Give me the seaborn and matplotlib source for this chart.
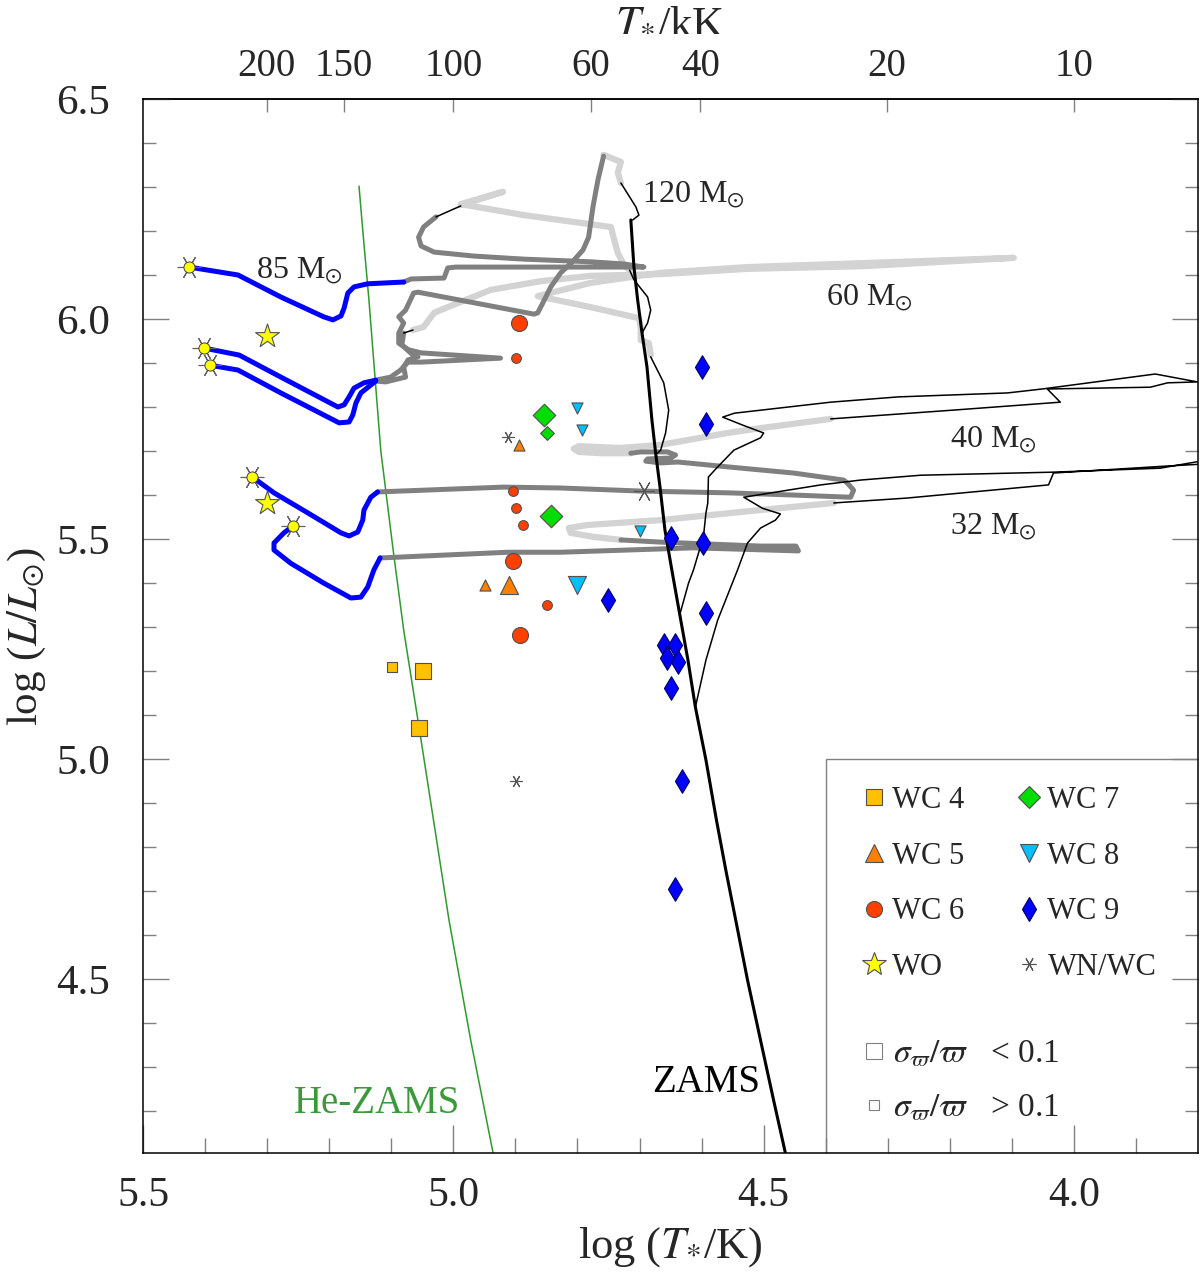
import numpy as np
import matplotlib
matplotlib.use("Agg")
import matplotlib.pyplot as plt
from matplotlib.lines import Line2D
from matplotlib.patches import Rectangle
from matplotlib.ticker import FixedLocator, FormatStrFormatter, NullLocator
import seaborn as sns

# ---- reference lines ----
he_zams_t = [5.152, 5.146, 5.136, 5.117, 5.097, 5.080, 5.052, 5.027, 5.007, 4.972, 4.936]
he_zams_l = [6.302, 6.202, 6.043, 5.702, 5.475, 5.293, 5.043, 4.816, 4.634, 4.361, 4.105]
zams_t = [4.714, 4.709, 4.703, 4.696, 4.688, 4.680, 4.674, 4.667, 4.659, 4.648, 4.635,
          4.622, 4.610, 4.593, 4.576, 4.561, 4.545, 4.526, 4.505, 4.484, 4.465]
zams_l = [6.225, 6.118, 6.043, 5.968, 5.891, 5.770, 5.695, 5.618, 5.520, 5.430, 5.327,
          5.225, 5.118, 4.998, 4.861, 4.748, 4.634, 4.498, 4.361, 4.225, 4.105]

# ---- 120 Msun track ----
thin120_t = [4.711, 4.701, 4.706, 4.730]
thin120_l = [6.225, 6.236, 6.255, 6.309]
lg120_t = [4.730, 4.735, 4.730, 4.758]
lg120_l = [6.309, 6.332, 6.357, 6.373]
dg120_t = [4.758, 4.767, 4.775, 4.782, 4.791, 4.808, 4.827, 4.843, 4.856, 4.864, 4.870,
           5.057, 5.064, 5.077, 5.088, 5.080, 5.088, 5.088, 5.072, 5.052, 4.924, 5.052,
           5.073, 5.085, 5.101, 5.125]
dg120_l = [6.370, 6.316, 6.255, 6.186, 6.157, 6.130, 6.105, 6.073, 6.036, 6.014, 6.011,
           6.061, 6.059, 6.020, 6.005, 5.991, 5.968, 5.945, 5.930, 5.923, 5.911, 5.902,
           5.902, 5.884, 5.868, 5.861]
blue120_t = [5.402, 5.345, 5.278, 5.186, 5.176, 5.168, 5.160, 5.144, 5.125]
blue120_l = [5.934, 5.918, 5.868, 5.800, 5.805, 5.823, 5.843, 5.855, 5.861]

# ---- 85 Msun track ----
thin85_t = [4.696, 4.687, 4.682, 4.687, 4.709, 4.716]
thin85_l = [5.968, 5.991, 6.020, 6.050, 6.089, 6.111]
lg85_t = [4.716, 4.725, 4.735, 4.742, 4.746, 4.886, 4.988, 4.920, 4.988]
lg85_l = [6.111, 6.123, 6.150, 6.186, 6.209, 6.236, 6.261, 6.289, 6.259]
thin85b_t = [4.988, 5.028]
thin85b_l = [6.257, 6.232]
dg85_t = [5.028, 5.048, 5.056, 5.052, 5.031, 4.967, 4.886, 4.779, 4.725, 4.693, 4.996,
          5.009, 5.015, 5.068, 5.080]
dg85_l = [6.232, 6.209, 6.186, 6.166, 6.152, 6.143, 6.136, 6.130, 6.125, 6.118, 6.118,
          6.116, 6.093, 6.091, 6.084]
blue85_t = [5.426, 5.347, 5.278, 5.209, 5.194, 5.181, 5.176, 5.170, 5.160, 5.138, 5.080]
blue85_l = [6.118, 6.100, 6.050, 6.005, 5.998, 6.007, 6.025, 6.059, 6.073, 6.080, 6.084]

# ---- 60 Msun track ----
thin60_t = [4.671, 4.666, 4.658, 4.653, 4.661, 4.682]
thin60_l = [5.695, 5.702, 5.741, 5.793, 5.855, 5.914]
lg60_t = [4.682, 4.685, 4.698, 4.698, 4.701, 4.779, 4.864, 4.779, 4.666, 4.526, 4.339,
          4.097, 4.339, 4.526, 4.666, 4.779, 4.859, 4.940, 5.009, 5.031, 5.048, 5.065]
lg60_l = [5.918, 5.945, 5.952, 5.982, 6.002, 6.027, 6.052, 6.082, 6.105, 6.118, 6.127,
          6.139, 6.120, 6.114, 6.102, 6.098, 6.086, 6.066, 6.027, 6.014, 5.982, 5.975]
thin60b_t = [5.065, 5.080]
thin60b_l = [5.975, 5.968]
dg60_t = [5.080, 5.083, 5.065, 5.057, 5.073, 5.080, 5.077, 5.109, 5.125]
dg60_l = [5.968, 5.941, 5.918, 5.914, 5.907, 5.891, 5.868, 5.857, 5.859]
blue60_t = [5.392, 5.347, 5.278, 5.184, 5.168, 5.162, 5.157, 5.149, 5.133, 5.125]
blue60_l = [5.895, 5.884, 5.832, 5.764, 5.766, 5.782, 5.809, 5.832, 5.850, 5.859]

# ---- 40 Msun track ----
thin40_t = [4.634, 4.621, 4.613, 4.605, 4.597, 4.593, 4.590, 4.589, 4.574, 4.548, 4.505,
            4.500, 4.534, 4.566, 4.547, 4.392, 4.283, 4.107, 4.051, 3.869, 3.801, 3.849,
            3.877, 4.043, 4.022, 4.194, 4.392]
thin40_l = [5.334, 5.400, 5.430, 5.468, 5.505, 5.559, 5.582, 5.641, 5.664, 5.702, 5.730,
            5.741, 5.759, 5.777, 5.786, 5.811, 5.823, 5.832, 5.841, 5.875, 5.857, 5.855,
            5.845, 5.841, 5.811, 5.793, 5.773]
lg40_t = [4.392, 4.505, 4.558, 4.666, 4.730, 4.767, 4.798, 4.806, 4.798, 4.762, 4.714]
lg40_l = [5.773, 5.752, 5.741, 5.714, 5.707, 5.709, 5.711, 5.705, 5.698, 5.695, 5.695]
dg40_t = [4.714, 4.698, 4.655, 4.642, 4.650, 4.687, 4.690, 4.666, 4.638, 4.558, 4.452,
          4.371, 4.365, 4.355, 4.360, 4.452, 4.558, 4.698, 4.827, 4.919, 5.122]
dg40_l = [5.695, 5.698, 5.698, 5.691, 5.684, 5.682, 5.677, 5.673, 5.675, 5.664, 5.650,
          5.634, 5.627, 5.611, 5.595, 5.600, 5.605, 5.609, 5.616, 5.618, 5.607]
blue40_t = [5.324, 5.289, 5.234, 5.181, 5.168, 5.154, 5.146, 5.144, 5.133, 5.122]
blue40_l = [5.641, 5.605, 5.559, 5.514, 5.507, 5.516, 5.543, 5.566, 5.595, 5.607]

# ---- 32 Msun track ----
thin32_t = [4.610, 4.593, 4.574, 4.558, 4.542, 4.526, 4.505, 4.481, 4.473, 4.502, 4.532,
            4.408, 4.344, 4.247, 4.033, 3.861, 3.796, 3.796, 3.849, 4.033, 4.041, 4.270,
            4.387]
thin32_l = [5.118, 5.225, 5.316, 5.373, 5.430, 5.491, 5.525, 5.543, 5.557, 5.570, 5.595,
            5.623, 5.634, 5.645, 5.652, 5.661, 5.677, 5.670, 5.666, 5.650, 5.623, 5.593,
            5.582]
lg32_t = [4.387, 4.505, 4.666, 4.783, 4.814, 4.811, 4.774, 4.730]
lg32_l = [5.582, 5.566, 5.543, 5.532, 5.525, 5.514, 5.505, 5.498]
dg32_t = [4.730, 4.666, 4.505, 4.448, 4.444, 4.613, 4.827, 4.912, 5.118]
dg32_l = [5.498, 5.493, 5.484, 5.484, 5.473, 5.480, 5.470, 5.470, 5.457]
blue32_t = [5.258, 5.273, 5.289, 5.289, 5.262, 5.209, 5.165, 5.149, 5.138, 5.128, 5.118]
blue32_l = [5.530, 5.514, 5.491, 5.475, 5.445, 5.400, 5.366, 5.368, 5.391, 5.430, 5.457]

# ---- observed WC / WO stars (big = sigma/plx < 0.1, small = > 0.1) ----
wc4_big_t, wc4_big_l = [5.049, 5.056], [5.200, 5.070]
wc4_small_t, wc4_small_l = [5.099], [5.209]
wc5_big_t, wc5_big_l = [4.911], [5.395]
wc5_small_t, wc5_small_l = [4.949, 4.895], [5.395, 5.714]
wc6_big_t, wc6_big_l = [4.895, 4.904, 4.893], [5.991, 5.450, 5.282]
wc6_small_t = [4.899, 4.904, 4.899, 4.888, 4.849]
wc6_small_l = [5.911, 5.609, 5.570, 5.532, 5.350]
wo_t, wo_l = [5.300, 5.300], [5.961, 5.582]
wc7_big_t, wc7_big_l = [4.854, 4.843], [5.782, 5.552]
wc7_small_t, wc7_small_l = [4.849], [5.741]
wc8_big_t, wc8_big_l = [4.800], [5.395]
wc8_small_t, wc8_small_l = [4.800, 4.793, 4.700], [5.798, 5.748, 5.518]
wc9_t = [4.600, 4.593, 4.650, 4.598, 4.750, 4.593, 4.661, 4.643, 4.655, 4.638, 4.650,
         4.632, 4.643]
wc9_l = [5.891, 5.761, 5.502, 5.491, 5.361, 5.332, 5.259, 5.259, 5.230, 5.220, 5.161,
         4.950, 4.705]
wnwc_big_t, wnwc_big_l = [4.693], [5.609]
wnwc_small_t, wnwc_small_l = [4.912, 4.899], [5.732, 4.950]

tkk_ticks = [200, 150, 100, 60, 40, 20, 10]
x_major = [5.5, 5.0, 4.5, 4.0]
y_major = [6.5, 6.0, 5.5, 5.0, 4.5]

BLUE = "#0000ff"
DGRAY = "#808080"
LGRAY = "#d3d3d3"
EDGE = "#505050"
C_WC4, C_WC5, C_WC6, C_WO = "#ffc000", "#ff8000", "#ff4000", "#ffff00"
C_WC7, C_WC8, C_WC9, C_WNWC = "#00dd00", "#00bfff", "#0000ff", "#555555"
ASTER = (6, 2, 90)

sns.set_theme(style="white")
plt.rcParams["font.family"] = ["Liberation Serif", "DejaVu Serif"]
plt.rcParams["mathtext.fontset"] = "stix"

fig = plt.figure(figsize=(12, 12.72), dpi=100)
ax = fig.add_axes([0.1192, 0.0936, 0.8792, 0.8286])


def track(t, l, color, lw, z):
    sns.lineplot(x=t, y=l, sort=False, estimator=None, color=color, lw=lw, ax=ax,
                 zorder=z, solid_capstyle="round", solid_joinstyle="round")


def stars(t, l, marker, ms, color, edge=EDGE):
    sns.scatterplot(x=t, y=l, marker=marker, s=ms ** 2, color=color, edgecolor=edge,
                    linewidth=0.8, ax=ax, zorder=6)


track(he_zams_t, he_zams_l, "#2e9a2e", 1.1, 1)

for t, l in [(lg120_t, lg120_l), (lg85_t, lg85_l), (lg60_t, lg60_l),
             (lg40_t, lg40_l), (lg32_t, lg32_l)]:
    track(t, l, LGRAY, 4.5, 2)
for t, l in [(dg120_t, dg120_l), (dg85_t, dg85_l), (dg60_t, dg60_l),
             (dg40_t, dg40_l), (dg32_t, dg32_l)]:
    track(t, l, DGRAY, 3.6, 3)

track(zams_t, zams_l, "black", 2.2, 3.5)
for t, l in [(thin120_t, thin120_l), (thin85_t, thin85_l), (thin85b_t, thin85b_l),
             (thin60_t, thin60_l), (thin60b_t, thin60b_l), (thin40_t, thin40_l),
             (thin32_t, thin32_l)]:
    track(t, l, "black", 1.1, 4)

blues = [(blue85_t, blue85_l), (blue120_t, blue120_l), (blue60_t, blue60_l),
         (blue40_t, blue40_l), (blue32_t, blue32_l)]
for t, l in blues:
    track(t, l, BLUE, 3.6, 4)

# end points of the tracks
end_t = [t[0] for t, _ in blues]
end_l = [l[0] for _, l in blues]
ax.plot(end_t, end_l, ls="none", marker=ASTER, ms=17, color="#606060", mew=0.8, zorder=5)
ax.plot(end_t, end_l, ls="none", marker="o", ms=8, mfc=C_WO, mec="#404040", mew=0.7, zorder=5.5)

stars(wc4_big_t, wc4_big_l, "s", 12, C_WC4)
stars(wc4_small_t, wc4_small_l, "s", 7, C_WC4)
stars(wc5_big_t, wc5_big_l, "^", 13, C_WC5)
stars(wc5_small_t, wc5_small_l, "^", 8, C_WC5)
stars(wc6_big_t, wc6_big_l, "o", 11.5, C_WC6)
stars(wc6_small_t, wc6_small_l, "o", 7, C_WC6)
stars(wo_t, wo_l, "*", 18, C_WO)
stars(wc7_big_t, wc7_big_l, "D", 11.5, C_WC7)
stars(wc7_small_t, wc7_small_l, "D", 7, C_WC7)
stars(wc8_big_t, wc8_big_l, "v", 13, C_WC8)
stars(wc8_small_t, wc8_small_l, "v", 8, C_WC8)
stars(wc9_t, wc9_l, "d", 12, C_WC9, edge="#000060")
ax.plot(wnwc_big_t, wnwc_big_l, ls="none", marker=ASTER, ms=15, color=C_WNWC, mew=0.8, zorder=6)
ax.plot(wnwc_small_t, wnwc_small_l, ls="none", marker=ASTER, ms=9, color=C_WNWC, mew=0.8, zorder=6)

# track labels
lab = dict(fontsize=23, va="baseline", zorder=7)
ax.text(5.318, 6.093, r"85 M$_{\odot}$", **lab)
ax.text(4.696, 6.264, r"120 M$_{\odot}$", **lab)
ax.text(4.399, 6.032, r"60 M$_{\odot}$", **lab)
ax.text(4.199, 5.709, r"40 M$_{\odot}$", **lab)
ax.text(4.199, 5.511, r"32 M$_{\odot}$", **lab)
ax.text(5.257, 4.195, "He-ZAMS", fontsize=28, color="#3a9a3a", va="baseline")
ax.text(4.680, 4.243, "ZAMS", fontsize=28, color="black", va="baseline")

# axes
ax.set_xlim(5.5, 3.80)
ax.set_ylim(4.105, 6.5)
ax.xaxis.set_major_locator(FixedLocator(x_major))
ax.xaxis.set_minor_locator(FixedLocator([v / 10 for v in range(39, 55) if v % 5]))
ax.yaxis.set_major_locator(FixedLocator(y_major))
ax.yaxis.set_minor_locator(FixedLocator([v / 10 for v in range(42, 65) if v % 5]))
ax.xaxis.set_major_formatter(FormatStrFormatter("%.1f"))
ax.yaxis.set_major_formatter(FormatStrFormatter("%.1f"))
ax.tick_params(axis="x", which="major", direction="in", length=20, width=1, color=DGRAY,
               labelsize=30, pad=17, bottom=True, top=False)
ax.tick_params(axis="x", which="minor", direction="in", length=10.5, width=1, color=DGRAY,
               bottom=True, top=False)
ax.tick_params(axis="y", which="major", direction="in", length=19, width=1, color=DGRAY,
               labelsize=31, pad=24, left=True, right=True)
ax.tick_params(axis="y", which="minor", direction="in", length=9.4, width=1, color=DGRAY,
               left=True, right=True)
for sp in ax.spines.values():
    sp.set_color("black")
    sp.set_linewidth(1.1)

sec = ax.secondary_xaxis("top", functions=(lambda x: 10 ** np.asarray(x) / 1e3,
                                           lambda t: np.log10(np.clip(t, 1e-6, None) * 1e3)))
sec.set_xticks(tkk_ticks)
sec.set_xticklabels([str(v) for v in tkk_ticks])
sec.xaxis.set_minor_locator(NullLocator())
sec.tick_params(direction="in", length=9.4, width=1, color=DGRAY, labelsize=28, pad=10)
sec.spines["top"].set_color("black")
sec.spines["top"].set_linewidth(1.1)
sec.set_xlabel(r"$T_{*}$/kK", fontsize=32, labelpad=12)

ax.set_xlabel(r"log ($T_{*}$/K)", fontsize=32)
ax.set_ylabel(r"log ($L/L_{\odot}$)", fontsize=31)
ax.xaxis.set_label_coords(0.4995, -0.068)
ax.yaxis.set_label_coords(-0.090, 0.49)

# legend
def handle(marker, ms, color, edge=EDGE):
    if marker == ASTER:
        return Line2D([], [], ls="none", marker=marker, ms=ms, color=color, mew=0.8)
    return Line2D([], [], ls="none", marker=marker, ms=ms, mfc=color, mec=edge, mew=0.8)


h1 = [handle("s", 12, C_WC4), handle("^", 13, C_WC5), handle("o", 11.5, C_WC6),
      handle("*", 18, C_WO), handle("D", 11.5, C_WC7), handle("v", 13, C_WC8),
      handle("d", 12, C_WC9, "#000060"), handle(ASTER, 10, C_WNWC)]
l1 = ["WC 4", "WC 5", "WC 6", "WO", "WC 7", "WC 8", "WC 9", "WN/WC"]
leg1 = ax.legend(h1, l1, ncol=2, loc="upper left", bbox_to_anchor=(0.681, 0.348),
                 frameon=False, fontsize=22, handlelength=0.8, handletextpad=0.2,
                 columnspacing=1.72, labelspacing=0.87, borderpad=0, borderaxespad=0)
ax.add_artist(leg1)
h2 = [handle("s", 12, "white", DGRAY), handle("s", 7, "white", DGRAY)]
l2 = [r"$\sigma_{\varpi}/\varpi$   < 0.1", r"$\sigma_{\varpi}/\varpi$   > 0.1"]
ax.legend(h2, l2, loc="upper left", bbox_to_anchor=(0.681, 0.108), frameon=False,
          fontsize=24, handlelength=0.75, handletextpad=0.2, labelspacing=0.7,
          borderpad=0, borderaxespad=0)
ax.add_patch(Rectangle((0.6474, 0.0), 0.36, 0.3738, transform=ax.transAxes,
                       fill=False, ec=DGRAY, lw=1, zorder=1, clip_on=True))

fig.savefig("out.png", dpi=100, facecolor="w")
